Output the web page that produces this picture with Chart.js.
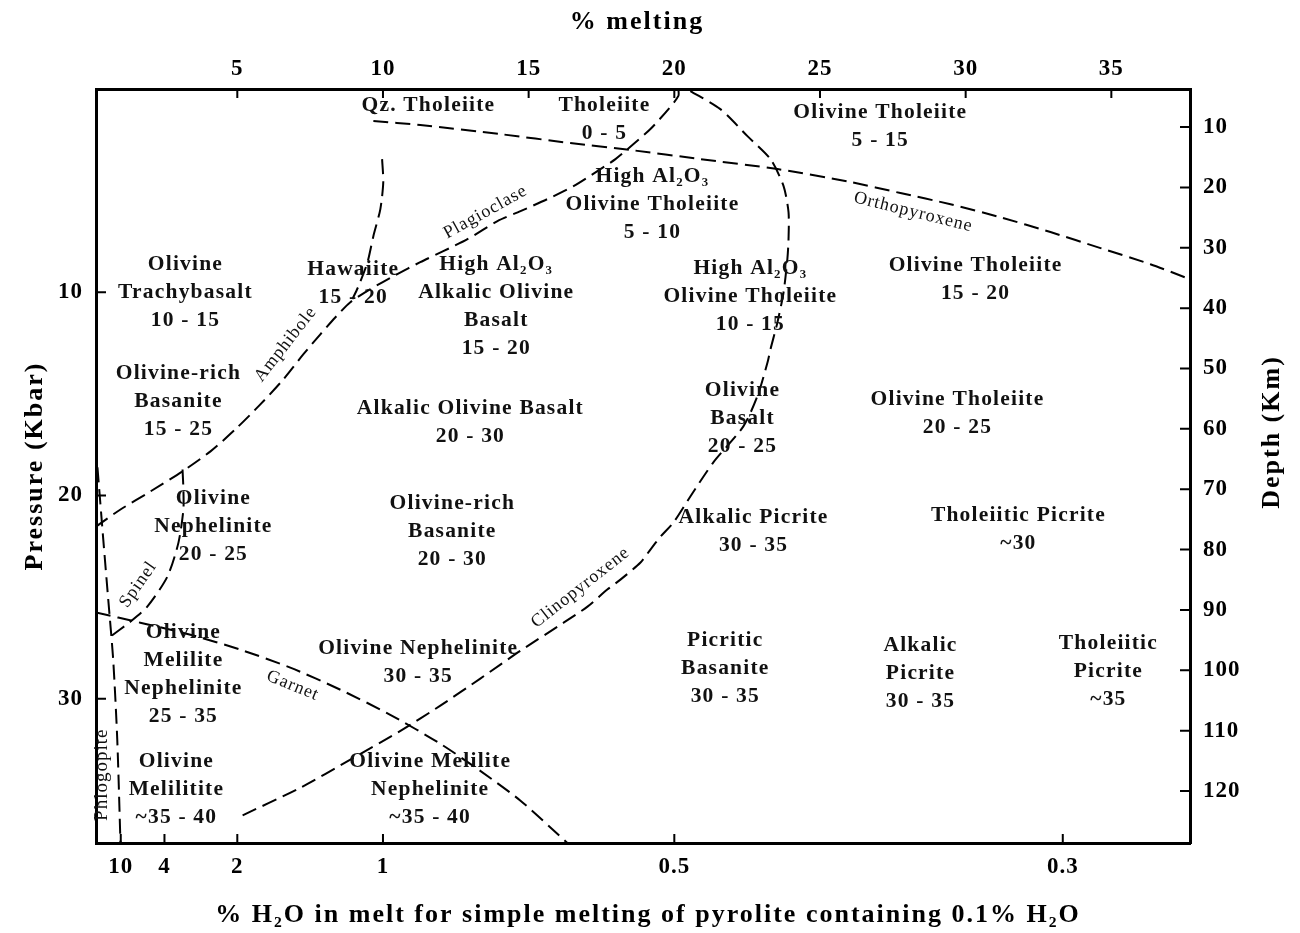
<!DOCTYPE html>
<html>
<head>
<meta charset="utf-8">
<script src="https://cdn.jsdelivr.net/npm/chart.js@4.4.1/dist/chart.umd.min.js"></script>
<style>
  html, body { margin: 0; padding: 0; background: #fff; }
  #wrap { width: 1300px; height: 933px; }
</style>
</head>
<body>
<div id="wrap"><canvas id="phaseChart" width="1300" height="933"></canvas></div>
<script>
const SERIF = "'Liberation Serif', 'Times New Roman', serif";

// axis ticks
const meltTicks = [5, 10, 15, 20, 25, 30, 35];
const pressureTicks = [10, 20, 30];
const depthTicks = [10, 20, 30, 40, 50, 60, 70, 80, 90, 100, 110, 120];
const h2oTicks = [10, 4, 2, 1, 0.5, 0.3];
const bulkH2O = 0.1; // % H2O in the pyrolite

// phase boundaries as [% melting, pressure kbar]
const orthopyroxene = [[9.67,1.58],[11.28,1.77],[14.03,2.22],[16.43,2.66],[18.49,3.0],[20.9,3.45],[23.54,3.94],[26.05,4.58],[27.76,5.12],[29.48,5.67],[31.19,6.31],[32.91,7.04],[34.63,7.83],[36.34,8.62],[37.7,9.36]];
const plagioclaseAmphibole = [[20.14,0],[20.14,0.34],[19.8,0.99],[19.18,1.97],[18.6,2.71],[17.98,3.45],[17.36,4.04],[16.54,4.78],[15.64,5.42],[14.72,6.01],[13.93,6.5],[12.9,7.39],[12.07,7.98],[11.28,8.52],[10.42,9.16],[9.57,9.85],[8.88,10.49],[8.37,11.23],[7.85,12.07],[7.27,13.05],[6.58,14.29],[5.79,15.52],[4.93,16.75],[4.08,17.83],[3.11,18.82],[2.02,19.8],[0.99,20.69],[0.15,21.53]];
const hawaiite = [[9.97,3.45],[10.01,4.58],[9.91,5.91],[9.67,7.24],[9.47,8.52],[9.16,9.7],[8.95,10.34]];
const clinopyroxene = [[20.55,0.1],[21.58,0.99],[22.51,2.32],[23.3,3.45],[23.75,4.78],[23.92,6.06],[23.92,7.39],[23.88,8.37],[23.75,10.0],[23.54,11.48],[23.3,12.81],[23.2,13.45],[22.85,15.12],[22.37,16.6],[21.34,18.37],[20.55,20.05],[19.97,21.33],[19.53,22.02],[19.18,22.66],[18.84,23.3],[18.15,24.14],[17.7,24.63],[17.02,25.47],[16.2,26.26],[14.72,27.64],[13.34,29.01],[11.97,30.34],[10.6,31.58],[8.88,33.0],[7.17,34.38],[5.0,35.86]];
const garnet = [[0.15,25.76],[1.67,26.26],[3.39,26.85],[5.11,27.59],[6.82,28.47],[8.54,29.56],[10.25,30.79],[11.97,32.22],[13.34,33.55],[14.72,35.02],[16.33,37.1]];
const phlogopite = [[0.2,18.62],[0.4,22.17],[0.57,25.12],[0.74,28.08],[0.88,32.02],[0.99,37.1]];
const spinel = [[3.12,18.72],[3.15,19.7],[3.15,20.69],[2.98,22.32],[2.6,23.99],[1.91,25.47],[1.33,26.21],[0.64,26.95]];

// rock types in each field, centre as [% melting, pressure kbar]
const fieldLabels = [
  { lines: ['Qz. Tholeiite'], at: [11.56, 0.79] },
  { lines: ['Tholeiite', '0 - 5'], at: [17.6, 1.48] },
  { lines: ['Olivine Tholeiite', '5 - 15'], at: [27.07, 1.82] },
  { lines: ['High Al\u2082O\u2083', 'Olivine Tholeiite', '5 - 10'], at: [19.25, 5.67] },
  { lines: ['Olivine', 'Trachybasalt', '10 - 15'], at: [3.22, 10.0] },
  { lines: ['Hawaiite', '15 - 20'], at: [8.98, 9.56] },
  { lines: ['High Al\u2082O\u2083', 'Alkalic Olivine', 'Basalt', '15 - 20'], at: [13.89, 10.69] },
  { lines: ['High Al\u2082O\u2083', 'Olivine Tholeiite', '10 - 15'], at: [22.61, 10.2] },
  { lines: ['Olivine Tholeiite', '15 - 20'], at: [30.34, 9.36] },
  { lines: ['Olivine-rich', 'Basanite', '15 - 25'], at: [2.98, 15.37] },
  { lines: ['Alkalic Olivine Basalt', '20 - 30'], at: [13.0, 16.4] },
  { lines: ['Olivine', 'Basalt', '20 - 25'], at: [22.34, 16.2] },
  { lines: ['Olivine Tholeiite', '20 - 25'], at: [29.72, 15.96] },
  { lines: ['Olivine', 'Nephelinite', '20 - 25'], at: [4.18, 21.53] },
  { lines: ['Olivine-rich', 'Basanite', '20 - 30'], at: [12.38, 21.77] },
  { lines: ['Alkalic Picrite', '30 - 35'], at: [22.72, 21.77] },
  { lines: ['Tholeiitic Picrite', '~30'], at: [31.81, 21.67] },
  { lines: ['Olivine', 'Melilite', 'Nephelinite', '25 - 35'], at: [3.15, 28.82] },
  { lines: ['Olivine Nephelinite', '30 - 35'], at: [11.21, 28.23] },
  { lines: ['Picritic', 'Basanite', '30 - 35'], at: [21.75, 28.52] },
  { lines: ['Alkalic', 'Picrite', '30 - 35'], at: [28.45, 28.77] },
  { lines: ['Tholeiitic', 'Picrite', '~35'], at: [34.9, 28.67] },
  { lines: ['Olivine', 'Melilitite', '~35 - 40'], at: [2.91, 34.48] },
  { lines: ['Olivine Melilite', 'Nephelinite', '~35 - 40'], at: [11.62, 34.48] }
];

// names written along the boundaries
const boundaryLabels = [
  { text: 'Plagioclase', at: [13.52, 6.06], angle: -29 },
  { text: 'Orthopyroxene', at: [28.2, 6.06], angle: 14 },
  { text: 'Amphibole', at: [6.66, 12.56], angle: -52 },
  { text: 'Spinel', at: [1.6, 24.38], angle: -55 },
  { text: 'Clinopyroxene', at: [16.78, 24.53], angle: -38 },
  { text: 'Garnet', at: [6.9, 29.36], angle: 22 },
  { text: 'Phlogopite', at: [0.34, 33.74], angle: -90 }
];

function boundary(pts) {
  return {
    data: pts.map(p => ({ x: p[0], y: p[1] })),
    showLine: true,
    borderColor: '#000',
    borderWidth: 2,
    borderDash: [15, 7],
    pointRadius: 0,
    tension: 0.25,
    fill: false
  };
}

const tickFont = { family: SERIF, size: 23, weight: 'bold' };

const annotate = {
  id: 'annotate',
  beforeDraw(chart) {
    chart.ctx.letterSpacing = '1px';
  },
  afterDatasetsDraw(chart) {
    const { ctx, chartArea: area, scales } = chart;
    const X = v => scales.x.getPixelForValue(v);
    const Y = v => scales.y.getPixelForValue(v);
    ctx.save();
    // tick marks point into the plot
    ctx.strokeStyle = '#000';
    ctx.lineWidth = 2;
    ctx.beginPath();
    scales.x.ticks.forEach(t => { const px = X(t.value); ctx.moveTo(px, area.top); ctx.lineTo(px, area.top + 9); });
    scales.h2o.ticks.forEach(t => { const px = scales.h2o.getPixelForValue(t.value); ctx.moveTo(px, area.bottom); ctx.lineTo(px, area.bottom - 9); });
    scales.y.ticks.forEach(t => { const py = Y(t.value); ctx.moveTo(area.left, py); ctx.lineTo(area.left + 10, py); });
    scales.depth.ticks.forEach(t => { const py = scales.depth.getPixelForValue(t.value); ctx.moveTo(area.right, py); ctx.lineTo(area.right - 10, py); });
    ctx.stroke();

    ctx.fillStyle = '#111';
    ctx.textAlign = 'center';
    ctx.textBaseline = 'middle';
    ctx.letterSpacing = '1.2px';
    ctx.font = 'bold 21.5px ' + SERIF;
    fieldLabels.forEach(lb => {
      const cx = X(lb.at[0]), cy = Y(lb.at[1]);
      const n = lb.lines.length;
      lb.lines.forEach((s, i) => ctx.fillText(s, cx, cy + (i - (n - 1) / 2) * 28));
    });

    ctx.letterSpacing = '1px';
    boundaryLabels.forEach(lb => {
      ctx.save();
      ctx.font = (lb.angle === -90 ? '19px ' : '18px ') + SERIF;
      ctx.translate(X(lb.at[0]), Y(lb.at[1]));
      ctx.rotate(lb.angle * Math.PI / 180);
      ctx.fillText(lb.text, 0, 0);
      ctx.restore();
    });
    ctx.restore();
  },
  afterDraw(chart) {
    const { ctx, chartArea: area, scales } = chart;
    const midX = (area.left + area.right) / 2;
    const midY = (area.top + area.bottom) / 2;
    ctx.save();
    ctx.fillStyle = '#000';
    ctx.textAlign = 'center';
    ctx.textBaseline = 'middle';
    ctx.letterSpacing = '2px';
    ctx.font = 'bold 26px ' + SERIF;
    ctx.fillText('% melting', midX - 6, 22);
    ctx.fillText('% H\u2082O in melt for simple melting of pyrolite containing 0.1% H\u2082O', midX + 5, 915);
    ctx.save();
    ctx.translate(scales.y.left + 35, midY);
    ctx.rotate(-Math.PI / 2);
    ctx.fillText('Pressure (Kbar)', 0, 0);
    ctx.restore();
    ctx.save();
    ctx.translate(scales.depth.right - 28, midY - 34);
    ctx.rotate(-Math.PI / 2);
    ctx.fillText('Depth (Km)', 0, 0);
    ctx.restore();
    ctx.restore();
  }
};

const fixedTicks = values => scale => { scale.ticks = values.map(v => ({ value: v })); };
const border = { display: true, color: '#000', width: 3 };

new Chart(document.getElementById('phaseChart'), {
  type: 'scatter',
  data: {
    datasets: [orthopyroxene, plagioclaseAmphibole, hawaiite, clinopyroxene, garnet, phlogopite, spinel].map(boundary)
  },
  options: {
    responsive: false,
    animation: false,
    devicePixelRatio: 1,
    layout: { padding: 0 },
    plugins: { legend: { display: false }, tooltip: { enabled: false } },
    scales: {
      x: {
        type: 'linear', position: 'top', min: 0.15, max: 37.7,
        afterBuildTicks: fixedTicks(meltTicks),
        afterFit: s => { s.height = 89; },
        grid: { display: false }, border,
        ticks: { font: tickFont, color: '#000', padding: -2 }
      },
      h2o: {
        type: 'linear', position: 'bottom', min: 0.15, max: 37.7,
        afterBuildTicks: fixedTicks(h2oTicks.map(h => bulkH2O * 100 / h)),
        afterFit: s => { s.height = 90; },
        grid: { display: false }, border,
        ticks: {
          font: tickFont, color: '#000', padding: 2,
          callback: v => String(h2oTicks.find(h => Math.abs(bulkH2O * 100 / h - v) < 1e-6))
        }
      },
      y: {
        type: 'linear', position: 'left', reverse: true, min: 0, max: 37.1,
        afterBuildTicks: fixedTicks(pressureTicks),
        afterFit: s => { s.width = 96; },
        grid: { display: false }, border,
        ticks: { font: tickFont, color: '#000', padding: 5 }
      },
      depth: {
        type: 'linear', position: 'right', reverse: true, min: 3.7, max: 128.6,
        afterBuildTicks: fixedTicks(depthTicks),
        afterFit: s => { s.width = 110; },
        grid: { display: false }, border,
        ticks: { font: tickFont, color: '#000', padding: 5 }
      }
    }
  },
  plugins: [annotate]
});
</script>
</body>
</html>
